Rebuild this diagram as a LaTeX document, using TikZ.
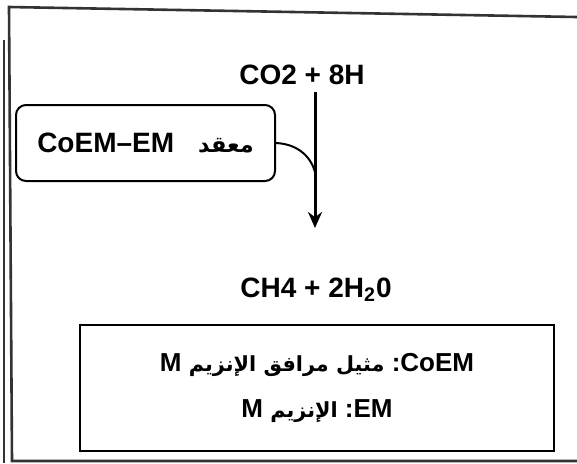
\documentclass[tikz,border=0pt]{standalone}
\usepackage{fontspec}
\setmainfont{Liberation Sans}
\newfontfamily\arabicfont[Script=Arabic,Scale=0.8]{DejaVu Sans}
\TeXXeTstate=1
\usetikzlibrary{arrows.meta,positioning}
\tikzset{
  chem/.style={font=\fontsize{14}{16}\selectfont\bfseries, inner sep=1pt},
  cplx/.style={rectangle, rounded corners=5pt, draw, line width=1pt, minimum width=129.5pt, minimum height=38pt, font=\fontsize{14}{16}\selectfont\bfseries},
  legend/.style={rectangle, draw, line width=0.9pt, minimum width=237pt, minimum height=63pt, align=center, font=\fontsize{13}{23}\selectfont\bfseries},
  arrow/.style={-{Stealth[length=8pt,width=7pt]}, line width=1.5pt},
  frame/.style={line width=1.3pt, draw=black!80}
}

\begin{document}
\begin{tikzpicture}[x=0.5pt,y=-0.5pt]
\useasboundingbox (0,0) rectangle (577,463);

% page frame (open on the right)
\draw[frame] (577,17) -- (9,7) -- (12,461) -- (577,461);
\draw[frame,line width=0.9pt] (4,40) -- (4,463);

\node[chem] (react) at (302,75) {CO2 + 8H};
\node[chem] (prod) at (316,290) {CH4 + 2H\textsubscript{2}0};
\node[cplx] (cplx) at (145.5,143) {CoEM--EM\hspace{12pt}{\arabicfont\beginR معقد\endR}};
\node[legend] (legend) at (317,388) {%
  \beginR\beginL CoEM\endL: {\arabicfont مثيل مرافق الإنزيم} \beginL M\endL\endR\\
  \beginR\beginL EM\endL: {\arabicfont الإنزيم} \beginL M\endL\endR};

\coordinate (top) at (315,92);
\coordinate (tip) at (315,228);
\coordinate (join) at (315,172);

\draw[arrow] (top) -- (tip);
\draw[line width=1pt] (cplx.east) .. controls (298,144) and (311,157) .. (join);

\end{tikzpicture}
\end{document}
